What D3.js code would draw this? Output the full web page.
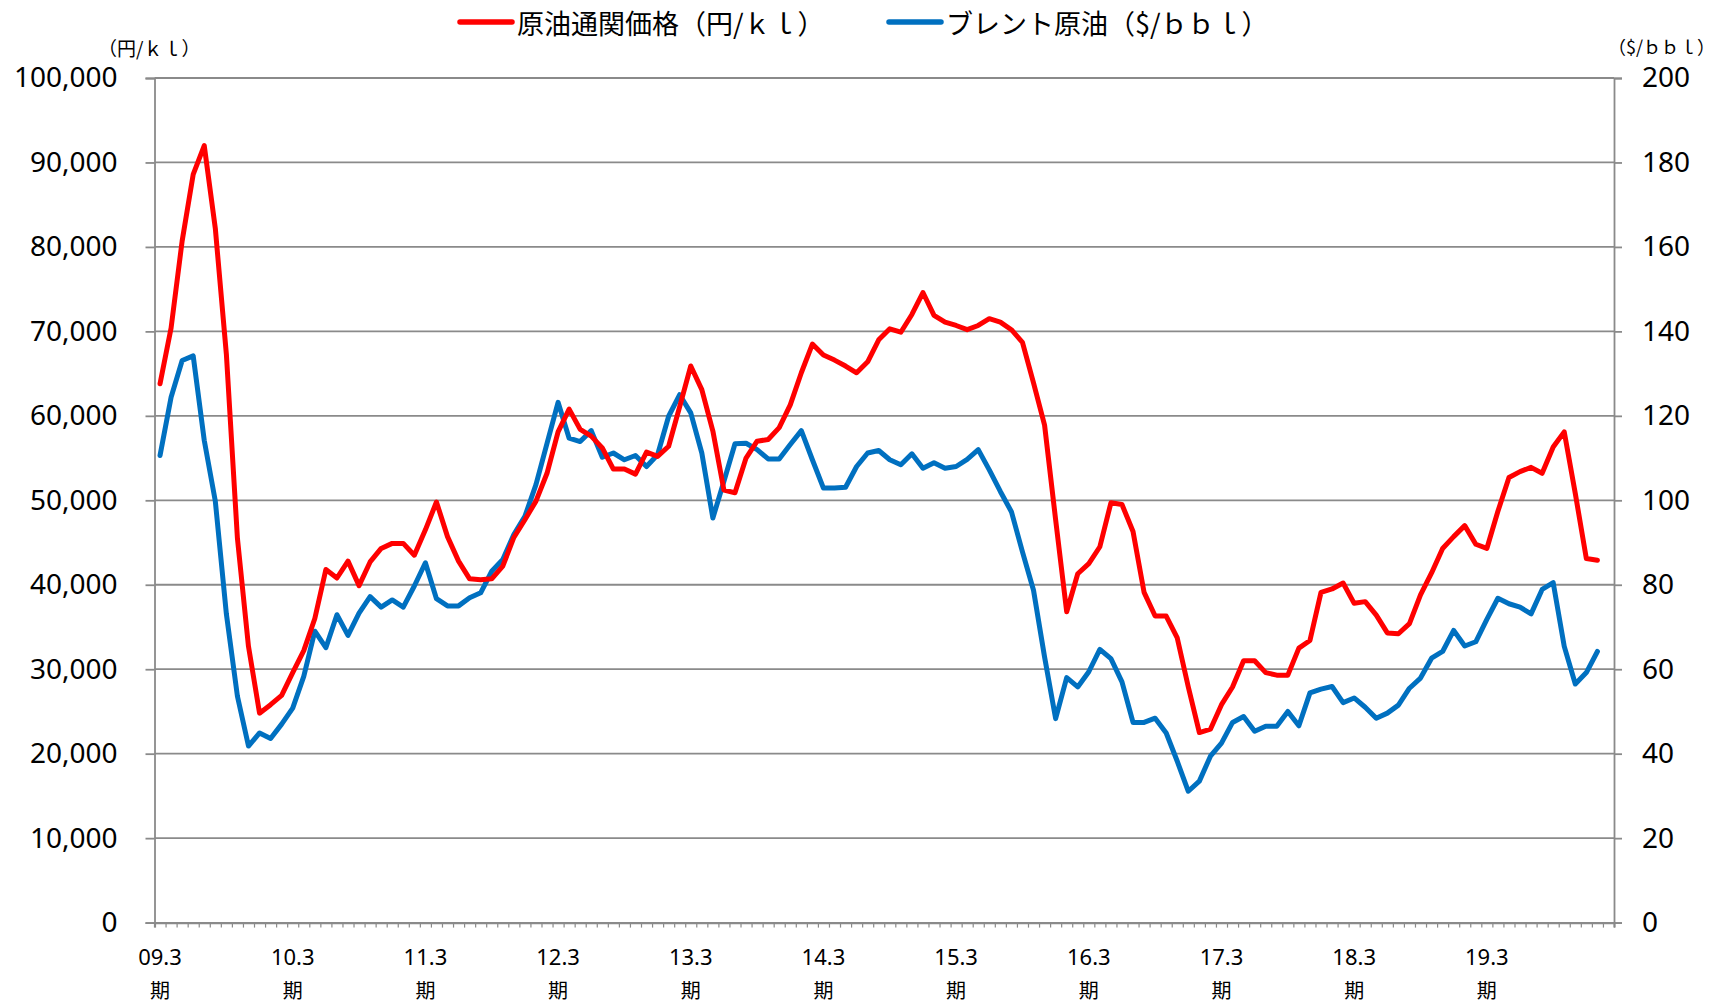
<!DOCTYPE html>
<html lang="ja">
<head>
<meta charset="utf-8">
<script src="https://cdn.jsdelivr.net/npm/d3@7"></script>
<style>
  html, body { margin: 0; padding: 0; background: #fff; }
  svg { display: block; }
  .num { font-family: "Noto Sans", "Noto Sans CJK JP", sans-serif; fill: #000; }
  .jp { font-family: "Noto Sans CJK JP", "Noto Sans", sans-serif; fill: #000; }
</style>
</head>
<body>
<svg id="chart" width="1717" height="1004"></svg>
<script>
// Monthly averages, April 2008 through February 2019 (fiscal years 09.3期 – 19.3期)
const crudeImportYenPerKl = [
  63800, 70400, 80700, 88600, 92000, 82200, 67300, 45500, 32700, 24800, 25800, 26900,
  29600, 32200, 36000, 41800, 40800, 42800, 39900, 42700, 44300, 44900, 44900, 43500,
  46500, 49800, 45700, 42800, 40700, 40600, 40700, 42200, 45600, 47700, 49900, 53200,
  58100, 60800, 58400, 57600, 56200, 53700, 53700, 53100, 55700, 55200, 56400, 61100,
  65900, 63100, 58200, 51200, 50900, 55000, 57000, 57200, 58600, 61300, 65100, 68500,
  67200, 66600, 65900, 65100, 66400, 69000, 70300, 69900, 72000, 74600, 71900, 71100,
  70700, 70200, 70700, 71500, 71100, 70200, 68700, 63900, 58900, 47700, 36800, 41300,
  42500, 44500, 49700, 49500, 46300, 39100, 36300, 36300, 33700, 27900, 22500, 22900,
  25800, 27900, 31000, 31000, 29600, 29300, 29300, 32500, 33400, 39100, 39500, 40200,
  37800, 38000, 36400, 34300, 34200, 35400, 38800, 41400, 44300, 45700, 47000, 44800,
  44300, 48700, 52700, 53400, 53900, 53200, 56300, 58100, 50800, 43100, 42900
];
const brentUsdPerBbl = [
  110.6, 124.4, 133.1, 134.2, 114.2, 99.8, 73.1, 53.6, 41.8, 44.9, 43.6, 47.0,
  50.8, 58.3, 69.0, 65.1, 72.9, 68.0, 73.3, 77.2, 74.7, 76.4, 74.7, 79.7,
  85.2, 76.7, 75.0, 75.0, 76.9, 78.1, 83.2, 86.0, 91.9, 96.2, 103.7, 113.5,
  123.2, 114.7, 113.9, 116.5, 110.2, 111.2, 109.6, 110.6, 108.0, 110.8, 119.9, 125.0,
  120.7, 111.2, 95.8, 104.5, 113.4, 113.5, 112.0, 109.8, 109.8, 113.2, 116.5, 109.6,
  102.9, 102.9, 103.1, 108.0, 111.2, 111.8, 109.6, 108.4, 111.0, 107.6, 108.9, 107.6,
  108.0, 109.7, 112.0, 107.2, 102.1, 97.3, 87.8, 78.7, 62.9, 48.3, 58.0, 55.8,
  59.4, 64.7, 62.5, 57.0, 47.4, 47.4, 48.4, 44.9, 38.2, 31.1, 33.5, 39.4,
  42.5, 47.4, 48.8, 45.3, 46.5, 46.5, 50.0, 46.6, 54.4, 55.3, 55.9, 52.1,
  53.2, 51.0, 48.4, 49.6, 51.5, 55.5, 57.9, 62.6, 64.2, 69.2, 65.5, 66.5,
  71.8, 76.8, 75.5, 74.7, 73.1, 78.9, 80.5, 65.4, 56.5, 59.2, 64.2
];
// Fiscal-year labels shown under the first month (April) of each year
const fiscalYearLabels = ["09.3", "10.3", "11.3", "12.3", "13.3", "14.3", "15.3", "16.3", "17.3", "18.3", "19.3"];
const fiscalSuffix = "期";
const seriesNames = ["原油通関価格（円/ｋｌ）", "ブレント原油（$/ｂｂｌ）"];
const unitLeft = "（円/ｋｌ）";
const unitRight = "（$/ｂｂｌ）";
const leftTicks = [0, 10000, 20000, 30000, 40000, 50000, 60000, 70000, 80000, 90000, 100000];
const rightTicks = [0, 20, 40, 60, 80, 100, 120, 140, 160, 180, 200];

// Month categories: April 2008 – March 2019 (132 months, last month without data)
const months = d3.range(132).map(i => {
  const d = new Date(2008, 3 + i, 1);
  return d.getFullYear() + "-" + String(d.getMonth() + 1).padStart(2, "0");
});

const RED = "#ff0000", BLUE = "#0070c0", GRID = "#8a8a8a";
const plot = { left: 154.5, right: 1614, top: 78, bottom: 922.6 };

const svg = d3.select("#chart");

const x = d3.scaleBand().domain(months).range([plot.left, plot.right]).paddingInner(0).paddingOuter(0);
const xc = m => x(m) + x.bandwidth() / 2;
const yL = d3.scaleLinear().domain([0, 100000]).range([plot.bottom, plot.top]);
const yR = d3.scaleLinear().domain([0, 200]).range([plot.bottom, plot.top]);

// horizontal gridlines
svg.append("g")
  .selectAll("line").data(leftTicks.filter(v => v > 0)).join("line")
  .attr("x1", plot.left).attr("x2", plot.right)
  .attr("y1", d => yL(d)).attr("y2", d => yL(d))
  .attr("stroke", GRID).attr("stroke-width", 1.8);

// left axis
const axL = svg.append("g").attr("transform", `translate(${plot.left},0)`)
  .call(d3.axisLeft(yL).tickValues(leftTicks).tickFormat(d3.format(",")).tickSize(9).tickPadding(28));
axL.select(".domain").attr("stroke", GRID).attr("stroke-width", 1.8);
axL.selectAll(".tick line").attr("stroke", GRID).attr("stroke-width", 1.8);
axL.selectAll(".tick text").attr("class", "num").attr("font-size", 28).attr("fill", "#000");

// right axis
const axR = svg.append("g").attr("transform", `translate(${plot.right},0)`)
  .call(d3.axisRight(yR).tickValues(rightTicks).tickSize(8).tickPadding(20));
axR.select(".domain").attr("stroke", GRID).attr("stroke-width", 1.8);
axR.selectAll(".tick line").attr("stroke", GRID).attr("stroke-width", 1.8);
axR.selectAll(".tick text").attr("class", "num").attr("font-size", 28).attr("fill", "#000");

// bottom axis: minor ticks at every month boundary
const xIdx = d3.scaleLinear().domain([0, months.length]).range([plot.left, plot.right]);
const axB = svg.append("g").attr("transform", `translate(0,${plot.bottom})`)
  .call(d3.axisBottom(xIdx).tickValues(d3.range(months.length + 1)).tickSize(5).tickFormat(""));
axB.select(".domain").attr("stroke", GRID).attr("stroke-width", 2.2);
axB.selectAll(".tick line").attr("stroke", GRID).attr("stroke-width", 1.2);

// fiscal-year labels
const labelMonths = fiscalYearLabels.map((t, k) => ({ t, m: months[k * 12] }));
const lab = svg.append("g").selectAll("g").data(labelMonths).join("g")
  .attr("transform", d => `translate(${xc(d.m)},0)`);
lab.append("text").attr("class", "num").attr("font-size", 22)
  .attr("text-anchor", "middle").attr("y", 956).attr("dominant-baseline", "central")
  .text(d => d.t);
lab.append("text").attr("class", "jp").attr("font-size", 20)
  .attr("text-anchor", "middle").attr("y", 989).attr("dominant-baseline", "central")
  .text(fiscalSuffix);

// unit labels
svg.append("text").attr("class", "jp").attr("font-size", 19)
  .attr("x", 98).attr("y", 47).attr("dominant-baseline", "central").text(unitLeft);
svg.append("text").attr("class", "jp").attr("font-size", 18)
  .attr("x", 1608).attr("y", 46).attr("dominant-baseline", "central").text(unitRight);

// series lines
const redLine = d3.line().x((d, i) => xc(months[i])).y(d => yL(d));
const blueLine = d3.line().x((d, i) => xc(months[i])).y(d => yR(d));

svg.append("path").datum(brentUsdPerBbl)
  .attr("d", blueLine).attr("fill", "none").attr("stroke", BLUE)
  .attr("stroke-width", 5).attr("stroke-linejoin", "round").attr("stroke-linecap", "round");
svg.append("path").datum(crudeImportYenPerKl)
  .attr("d", redLine).attr("fill", "none").attr("stroke", RED)
  .attr("stroke-width", 5).attr("stroke-linejoin", "round").attr("stroke-linecap", "round");

// legend
const legend = [
  { name: seriesNames[0], color: RED, x: 460 },
  { name: seriesNames[1], color: BLUE, x: 889 }
];
const lg = svg.append("g").selectAll("g").data(legend).join("g")
  .attr("transform", d => `translate(${d.x},22)`);
lg.append("line").attr("x1", 0).attr("x2", 52).attr("y1", 0).attr("y2", 0)
  .attr("stroke", d => d.color).attr("stroke-width", 5.5).attr("stroke-linecap", "round");
lg.append("text").attr("class", "jp").attr("font-size", 27)
  .attr("x", 57).attr("y", 0).attr("dominant-baseline", "central").text(d => d.name);
</script>
</body>
</html>
